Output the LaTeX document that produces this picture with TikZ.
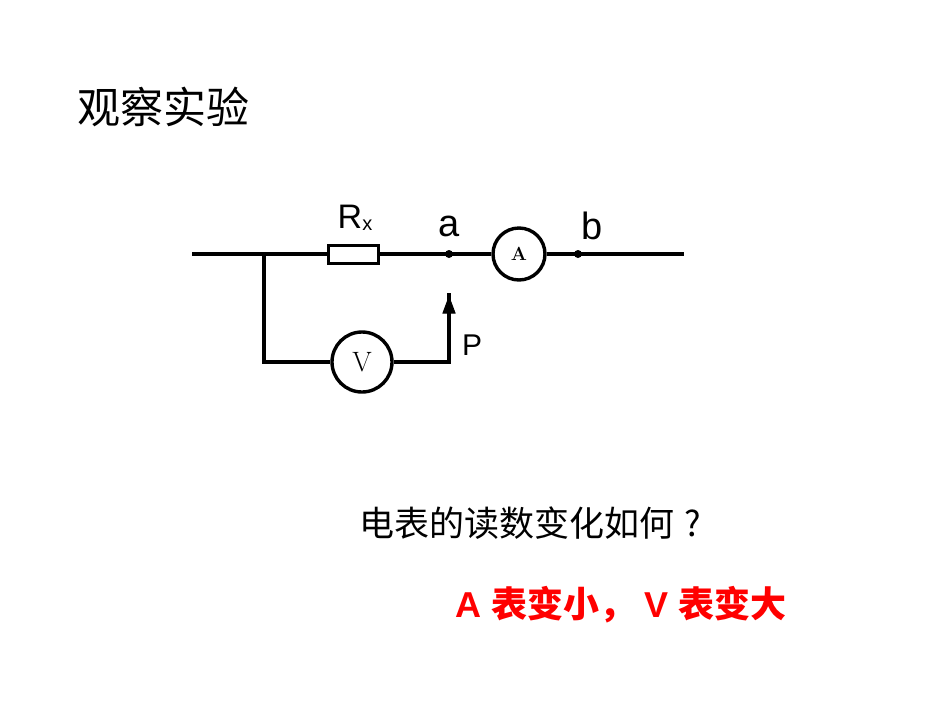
\documentclass[tikz,border=0pt]{standalone}
\usepackage{fontspec}
\newfontfamily\cjk{Noto Sans CJK SC}
\newfontfamily\cjkb{Noto Sans CJK SC Bold}
\setsansfont{Liberation Sans}
\begin{document}
\begin{tikzpicture}[x=1pt,y=-1pt,line width=3.6pt,
  meter/.style={circle,draw,line width=3.4pt,fill=white,inner sep=0pt},
  dotn/.style={circle,fill,inner sep=0pt,minimum size=8pt}]
\useasboundingbox (0,0) rectangle (950,713);
\node[font=\cjk\fontsize{43}{43}\selectfont,anchor=west] (title) at (72,107) {观察实验};
\coordinate (L) at (192,254);
\coordinate (R) at (684,254);
\coordinate (J) at (264,254);
\coordinate (JB) at (264,362);
\coordinate (PB) at (449,362);
\coordinate (PT) at (449,297);
\node[dotn] (a) at (449,254) {};
\node[dotn] (b) at (578,254) {};
\node[meter,minimum size=52pt] (A) at (519,254) {\fontsize{19}{19}\selectfont\bfseries A};
\node[meter,minimum size=60pt] (V) at (362,362) {\fontsize{28}{28}\selectfont V};
\draw (L) -- (A) -- (R);
\node[draw,line width=3pt,fill=white,minimum width=50pt,minimum height=18pt,inner sep=0pt] (Rx) at (353,254) {};
\draw (J) -- (JB) -- (V) -- (PB) -- ([yshift=4pt]PT);
\draw[line width=1pt,fill] (PT) -- (443,313) -- (455,313) -- cycle;
\node[font=\sffamily\fontsize{34}{34}\selectfont] (rl) at (355,218) {R\raisebox{-2pt}{\fontsize{20}{20}\selectfont x}};
\node[font=\sffamily\fontsize{38}{38}\selectfont] (al) at (449,226) {a};
\node[font=\sffamily\fontsize{38}{38}\selectfont] (bl) at (592,226) {b};
\node[font=\sffamily\fontsize{30}{30}\selectfont] (pl) at (472,345) {P};
\node[font=\cjk\fontsize{35}{35}\selectfont] (q) at (530,523) {电表的读数变化如何\hspace{10pt}?};
\node[font=\cjkb\fontsize{36}{36}\selectfont,text=red] (ans) at (621,605) {\sffamily\bfseries A \cjkb 表变小， \sffamily\bfseries V \cjkb 表变大};
\end{tikzpicture}
\end{document}
